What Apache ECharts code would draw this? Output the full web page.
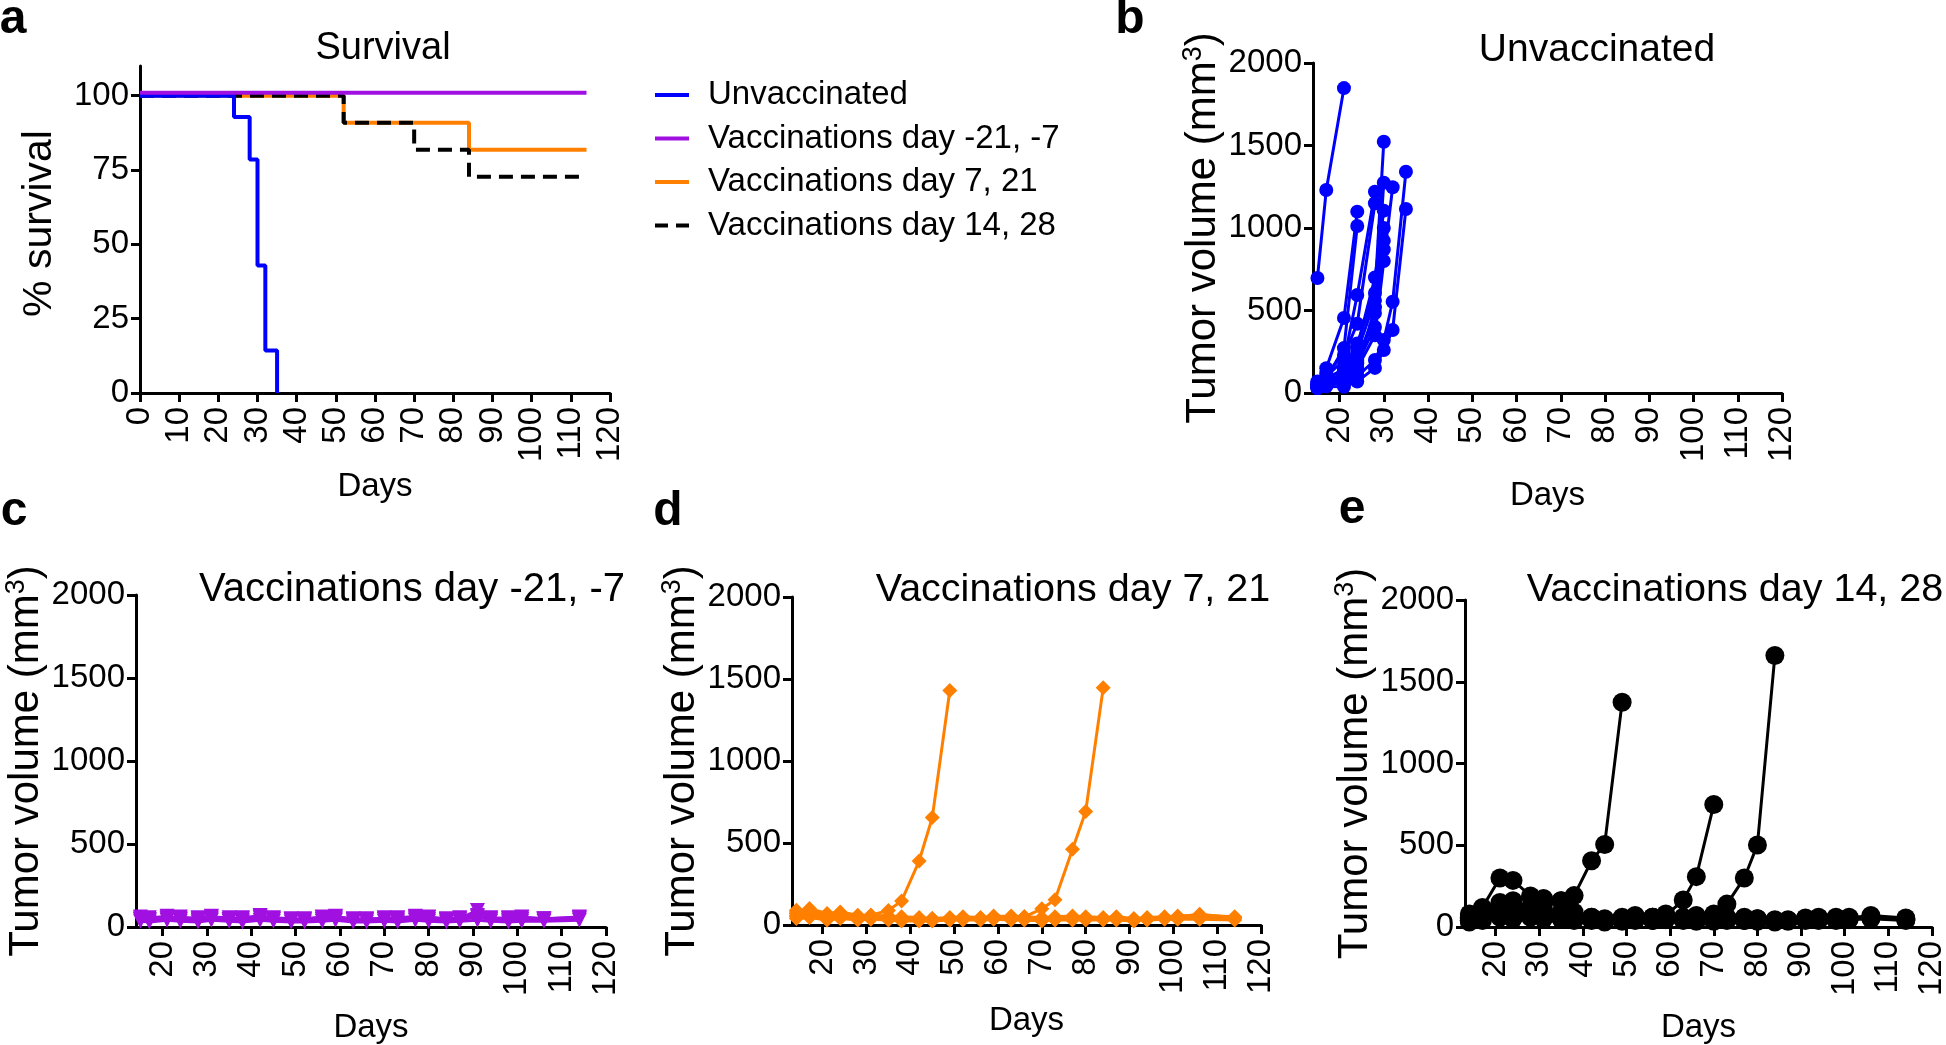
<!DOCTYPE html>
<html>
<head>
<meta charset="utf-8">
<title>Survival and tumor volume</title>
<script src="https://cdn.jsdelivr.net/npm/echarts@6.0.0/dist/echarts.min.js"></script>
<style>
html, body { margin: 0; padding: 0; background: #fff; }
#main { width: 1946px; height: 1045px; }
</style>
</head>
<body>
<div id="main"></div>
<script>
// ---- panel a : survival (%) ----
var survUnvacDays = [0, 24, 28, 30, 32, 35];
var survUnvac = [100, 92.86, 78.57, 42.86, 14.29, 0];
var survPreDays = [0, 114];
var survPre = [101, 101];            // drawn just above 100 in the figure
var surv721Days = [0, 52, 84, 114];
var surv721 = [100, 90.91, 81.82, 81.82];
var surv1428Days = [0, 52, 70, 84, 114];
var surv1428 = [100, 90.91, 81.82, 72.73, 72.73];

// ---- panel b : unvaccinated tumour volume (mm3) ----
var bDays = [15, 17, 21, 24, 28, 30, 32, 35];
var bMice = [
  [697, 1230, 1848],
  [60, 150, 455, 1099],
  [50, 90, 272, 1012],
  [40, 100, 200, 594, 1220],
  [70, 120, 230, 420, 1150],
  [50, 80, 150, 300, 606, 1523],
  [45, 70, 120, 200, 485, 1275],
  [60, 90, 140, 280, 700, 1105],
  [40, 60, 100, 250, 560, 923],
  [35, 55, 90, 180, 400, 870],
  [40, 60, 80, 150, 350, 800, 1247],
  [30, 45, 70, 130, 520, 1000],
  [30, 40, 38, 69, 152, 261, 382, 1115],
  [30, 50, 60, 100, 200, 321, 553, 1341]
];

// ---- panel c : vaccinations day -21, -7 ----
var cDays = [15, 17, 21, 24, 28, 31, 35, 38, 42, 45, 49, 52, 56, 59, 63, 66, 70, 73, 77, 80, 84, 87, 91, 94, 98, 101, 106, 114];
var cMice = [
  [60, 55, 65, 50, 55, 60, 55, 50, 65, 55, 50, 45, 55, 60, 50, 45, 55, 50, 60, 55, 45, 50, 100, 55, 50, 55, 50, 60],
  [45, 40, 50, 45, 40, 50, 45, 40, 55, 45, 40, 40, 45, 50, 40, 40, 45, 40, 50, 45, 40, 45, 60, 45, 40, 45, 45, 50],
  [35, 30, 40, 35, 30, 40, 35, 30, 40, 35, 30, 30, 35, 40, 30, 30, 35, 30, 40, 35, 30, 35, 40, 35, 30, 35, 35, 40],
  [50, 45, 55, 60, 50, 65, 45, 55, 70, 50, 45, 50, 60, 65, 45, 50, 50, 55, 65, 60, 50, 55, 70, 50, 55, 60, 50, 55]
];

// ---- panel d : vaccinations day 7, 21 ----
var dDays = [14, 17, 21, 24, 28, 31, 35, 38, 42, 45, 49, 52, 56, 59, 63, 66, 70, 73, 77, 80, 84, 87, 91, 94, 98, 101, 106, 114];
var dMice = [
  [70, 90, 60, 70, 50, 60, 88, 147, 390, 655, 1430],
  [60, 80, 50, 60, 45, 50, 45, 40, 35, 40, 30, 35, 40, 45, 40, 50, 99, 154, 462, 692, 1446],
  [80, 100, 70, 80, 60, 60, 55, 50, 45, 40, 45, 50, 45, 50, 55, 50, 45, 50, 55, 50, 45, 50, 40, 45, 50, 55, 60, 50],
  [50, 60, 40, 50, 40, 45, 40, 35, 30, 30, 35, 40, 35, 45, 40, 35, 30, 35, 40, 35, 35, 40, 30, 35, 40, 45, 45, 40],
  [40, 45, 30, 40, 30, 35, 30, 25, 25, 25, 30, 30, 30, 35, 30, 30, 25, 30, 30, 30, 30, 30, 25, 30, 35, 35, 35, 30],
  [90, 70, 60, 65, 55, 50, 50, 45, 40, 35, 40, 45, 40, 55, 50, 45, 40, 40, 45, 40, 40, 45, 35, 40, 45, 50, 65, 45]
];

// ---- panel e : vaccinations day 14, 28 ----
var eDays = [14, 17, 21, 24, 28, 31, 35, 38, 42, 45, 49, 52, 56, 59, 63, 66, 70, 73, 77, 80, 84, 87, 91, 94, 98, 101, 106, 114];
var eMice = [
  [60, 90, 130, 150, 120, 140, 160, 192, 405, 505, 1375],
  [50, 70, 80, 60, 70, 60, 50, 60, 50, 40, 50, 60, 60, 70, 165, 308, 749],
  [40, 60, 70, 80, 70, 60, 60, 50, 50, 40, 50, 60, 60, 60, 50, 60, 80, 140, 300, 502, 1660],
  [80, 120, 300, 285, 190, 175, 160, 90, 60, 40, 50, 60, 40, 50, 45, 50, 60, 50, 40, 50, 40, 45, 50, 55, 50, 55, 70, 55],
  [50, 80, 150, 160, 110, 100, 90, 70, 60, 50, 60, 70, 60, 80, 60, 70, 50, 60, 60, 50, 45, 40, 55, 60, 60, 60, 60, 50],
  [40, 60, 100, 90, 80, 70, 80, 60, 50, 40, 45, 50, 50, 55, 50, 40, 40, 45, 50, 40, 35, 40, 45, 45, 50, 50, 55, 45],
  [30, 40, 60, 50, 60, 50, 50, 40, 40, 30, 35, 40, 40, 45, 40, 35, 35, 40, 40, 35, 30, 35, 40, 40, 40, 45, 50, 40]
];

var dayTicks = [20, 30, 40, 50, 60, 70, 80, 90, 100, 110, 120];
var survTicks = [0, 25, 50, 75, 100];

var FONT = 'Liberation Sans';
var BLUE = '#0000FF', PURPLE = '#A010E0', ORANGE = '#FF8000', BLACK = '#000000';

function pairs(days, vals) {
  var out = [];
  for (var i = 0; i < vals.length; i++) {
    if (vals[i] != null) out.push([days[i], vals[i]]);
  }
  return out;
}

function plain(v) { return String(v); }

function baseAxis(i) {
  return {
    type: 'value',
    gridIndex: i,
    axisLine: { onZero: false, lineStyle: { color: BLACK, width: 3 } },
    axisTick: { length: 9, lineStyle: { color: BLACK, width: 3 } },
    axisLabel: { color: BLACK, fontSize: 33, fontFamily: FONT, margin: 11, formatter: plain },
    splitLine: { show: false },
    nameLocation: 'middle',
    nameTextStyle: { color: BLACK, fontFamily: FONT, fontSize: 33 }
  };
}

function dayAxis(i, min, gap) {
  var ax = baseAxis(i);
  ax.min = min;
  ax.max = 120;
  ax.name = 'Days';
  ax.nameGap = gap;
  ax.axisTick.customValues = dayTicks;
  ax.axisLabel.customValues = dayTicks;
  ax.axisLabel.rotate = 90;
  ax.axisLabel.margin = 14;
  return ax;
}

function volAxis(i, gap) {
  var ax = baseAxis(i);
  ax.min = 0;
  ax.max = 2000;
  ax.interval = 500;
  ax.name = '{a|Tumor volume (mm}{s|3}{a|)}';
  ax.nameRotate = 90;
  ax.nameGap = gap;
  ax.nameTextStyle.rich = {
    a: { fontSize: 42, fontFamily: FONT, color: BLACK, lineHeight: 48 },
    s: { fontSize: 27, fontFamily: FONT, color: BLACK, verticalAlign: 'top', lineHeight: 48 }
  };
  return ax;
}

var grids = [
  { left: 140, top: 66, width: 470, height: 327 },
  { left: 1313, top: 63, width: 469, height: 330 },
  { left: 136, top: 595, width: 470, height: 332 },
  { left: 792, top: 597, width: 469, height: 328 },
  { left: 1465, top: 600, width: 467, height: 327 }
];
grids.forEach(function (g) { g.outerBoundsMode = 'none'; });

// panel a axes
var xA = baseAxis(0);
xA.min = 0; xA.max = 120; xA.interval = 10;
xA.axisLabel.rotate = 90; xA.axisLabel.margin = 14;
xA.name = 'Days'; xA.nameGap = 77;
var yA = baseAxis(0);
yA.min = 0; yA.max = 110;
yA.axisTick.customValues = survTicks;
yA.axisLabel.customValues = survTicks;
yA.name = '% survival'; yA.nameRotate = 90; yA.nameGap = 80;
yA.nameTextStyle.fontSize = 41;
yA.nameTextStyle.padding = [0, 0, 0, 12];

var xAxes = [xA, dayAxis(1, 14, 86), dayAxis(2, 14, 84), dayAxis(3, 13, 79), dayAxis(4, 13, 84)];
var yAxes = [yA, volAxis(1, 83), volAxis(2, 80), volAxis(3, 82), volAxis(4, 81)];

function survSeries(name, days, vals, color, type) {
  return {
    name: name, type: 'line', xAxisIndex: 0, yAxisIndex: 0,
    step: 'end', symbol: 'none', silent: true,
    data: pairs(days, vals),
    lineStyle: { color: color, width: 4, type: type || 'solid' },
    itemStyle: { color: color }
  };
}

var series = [
  survSeries('Vaccinations day 7, 21', surv721Days, surv721, ORANGE),
  survSeries('Vaccinations day 14, 28', surv1428Days, surv1428, BLACK, [14, 8]),
  survSeries('Unvaccinated', survUnvacDays, survUnvac, BLUE),
  survSeries('Vaccinations day -21, -7', survPreDays, survPre, PURPLE)
];

function addMice(panel, days, mice, color, symbol, size, rotate) {
  mice.forEach(function (m, k) {
    series.push({
      name: 'tumor-' + panel + '-' + k, type: 'line',
      xAxisIndex: panel, yAxisIndex: panel, silent: true,
      data: pairs(days, m),
      symbol: symbol, symbolSize: size, symbolRotate: rotate || 0,
      lineStyle: { color: color, width: 3 },
      itemStyle: { color: color }
    });
  });
}
addMice(1, bDays, bMice, BLUE, 'circle', 14);
addMice(2, cDays, cMice, PURPLE, 'triangle', 15, 180);
addMice(3, dDays, dMice, ORANGE, 'diamond', 15);
addMice(4, eDays, eMice, BLACK, 'circle', 19);

function head(text, x, y, size, weight) {
  return {
    text: text, left: x, top: y, textAlign: 'center', textVerticalAlign: 'middle', padding: 0,
    textStyle: { fontFamily: FONT, fontSize: size, fontWeight: weight || 'normal', color: BLACK }
  };
}

var SOLID_ICON = 'path://M0,0H34V4H0Z';
var DASH_ICON = 'path://M0,0H13V4H0ZM21,0H34V4H21Z';

var option = {
  animation: false,
  backgroundColor: '#fff',
  title: [
    head('Survival', 383, 49, 38),
    head('Unvaccinated', 1597, 50, 39),
    head('Vaccinations day -21, -7', 412, 590, 40),
    head('Vaccinations day 7, 21', 1073, 590, 39.5),
    head('Vaccinations day 14, 28', 1735, 590, 39.5),
    head('a', 13, 20, 48, 'bold'),
    head('b', 1130, 20, 48, 'bold'),
    head('c', 14, 512, 48, 'bold'),
    head('d', 668, 512, 48, 'bold'),
    head('e', 1352, 510, 48, 'bold')
  ],
  legend: {
    orient: 'vertical', left: 655, top: 77, padding: 0,
    itemWidth: 34, itemHeight: 36, itemGap: 7.5, symbolKeepAspect: true,
    data: [
      { name: 'Unvaccinated', icon: SOLID_ICON },
      { name: 'Vaccinations day -21, -7', icon: SOLID_ICON },
      { name: 'Vaccinations day 7, 21', icon: SOLID_ICON },
      { name: 'Vaccinations day 14, 28', icon: DASH_ICON }
    ],
    textStyle: { fontFamily: FONT, fontSize: 33, color: BLACK, lineHeight: 36, padding: [0, 0, 0, 14] },
    selectedMode: false
  },
  grid: grids,
  xAxis: xAxes,
  yAxis: yAxes,
  series: series
};

var chart = echarts.init(document.getElementById('main'), null, { renderer: 'canvas' });
chart.setOption(option);
</script>
</body>
</html>
